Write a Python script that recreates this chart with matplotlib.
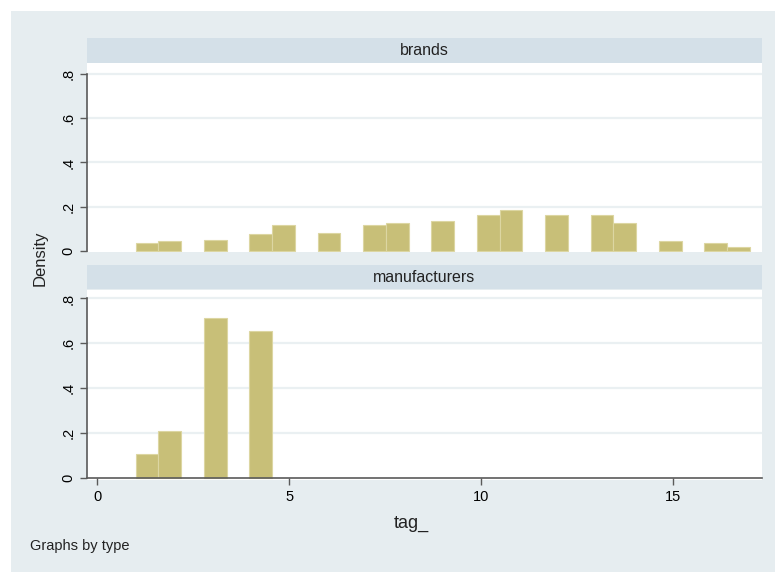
import numpy as np
import matplotlib
matplotlib.use("Agg")
import matplotlib.pyplot as plt
from matplotlib.patches import Rectangle

plt.rcParams['font.family'] = ['Liberation Sans Narrow', 'Liberation Sans', 'DejaVu Sans']

# tag_ values and histogram densities per group
brands_tags = list(range(1, 18))
brands_density = [0.0375, 0.045, 0.051, 0.075, 0.116, 0.080, 0.116, 0.128, 0.134,
                  0.164, 0.184, 0.164, 0.164, 0.128, 0.044, 0.036, 0.019]
manuf_tags = [1, 2, 3, 4]
manuf_density = [0.107, 0.208, 0.713, 0.654]

panel_titles = ["brands", "manufacturers"]
xticks = [0, 5, 10, 15]
yticks = [0, 0.2, 0.4, 0.6, 0.8]
ytick_labels = ["0", ".2", ".4", ".6", ".8"]

# common bins for both groups
n_bins = 27
edges = np.linspace(1, 17, n_bins + 1)

BG = "#e6edf0"
STRIP = "#d4e0e8"
BAR = "#c8bf78"
BAR_EDGE = "#dcd6a2"
GRID = "#eaf0f2"
AXIS = "#5a5a5a"

W, H = 775, 572
fig = plt.figure(figsize=(W / 100, H / 100), dpi=100, facecolor="white")


def fx(px):
    return px / W


def fy(py):
    return 1 - py / H


fig.patches.append(Rectangle((fx(11), 0), 1 - fx(11), fy(11), transform=fig.transFigure,
                             facecolor=BG, edgecolor="none", zorder=-10))

left, right = 86.7, 761.5
panels = [
    dict(strip=(38.3, 62.7), plot=(63.0, 251.7), tags=brands_tags, dens=brands_density,
         xaxis=False, ylim=(-0.003, 0.849)),
    dict(strip=(265.0, 289.0), plot=(289.5, 479.5), tags=manuf_tags, dens=manuf_density,
         xaxis=True, ylim=(-0.008, 0.84)),
]

for title, p in zip(panel_titles, panels):
    st, sb = p["strip"]
    sax = fig.add_axes([fx(left), fy(sb), fx(right) - fx(left), fy(st) - fy(sb)])
    sax.set_facecolor(STRIP)
    sax.set_xticks([])
    sax.set_yticks([])
    for s in sax.spines.values():
        s.set_visible(False)
    sax.text(0.5, 0.5, title, ha="center", va="center", fontsize=11.5,
             color="#222222", transform=sax.transAxes)

    pt, pb = p["plot"]
    ax = fig.add_axes([fx(left), fy(pb), fx(right) - fx(left), fy(pt) - fy(pb)])
    ax.set_facecolor("white")
    _, _, bars = ax.hist(p["tags"], bins=edges, weights=p["dens"], color=BAR,
                         edgecolor=BAR_EDGE, linewidth=0.8, zorder=3)
    # empty bins are not drawn
    for b in bars:
        if b.get_height() == 0:
            b.set_visible(False)
    ax.set_xlim(-0.276, 17.30)
    ax.set_ylim(*p["ylim"])
    for yv in yticks[1:]:
        ax.axhline(yv, color=GRID, linewidth=1.6, zorder=1)
    ax.set_yticks(yticks)
    ax.set_yticklabels(ytick_labels, rotation=90, va="center", fontsize=10.5)
    ax.tick_params(axis="y", length=5, width=1, color=AXIS, pad=3)
    for s in ["top", "right"]:
        ax.spines[s].set_visible(False)
    ax.spines["left"].set_color(AXIS)
    ax.spines["left"].set_linewidth(1.2)
    ax.spines["left"].set_bounds(0, 0.8)
    if p["xaxis"]:
        ax.spines["bottom"].set_color(AXIS)
        ax.spines["bottom"].set_linewidth(1.2)
        ax.spines["bottom"].set_position(("data", 0))
        ax.spines["bottom"].set_zorder(5)
        ax.set_xticks(xticks)
        ax.set_xticklabels([str(t) for t in xticks], fontsize=10.5)
        ax.tick_params(axis="x", length=5, width=1, color=AXIS, pad=4)
    else:
        ax.spines["bottom"].set_visible(False)
        ax.set_xticks([])

fig.text(fx(40), fy(258), "Density", rotation=90, ha="center", va="center",
         fontsize=12, color="#222222")
fig.text(fx(411), fy(523), "tag_", ha="center", va="center", fontsize=13,
         color="#222222")
fig.text(fx(30), fy(546), "Graphs by type", ha="left", va="center", fontsize=10.5,
         color="#222222")

fig.savefig("out.png", dpi=100, facecolor="white")
